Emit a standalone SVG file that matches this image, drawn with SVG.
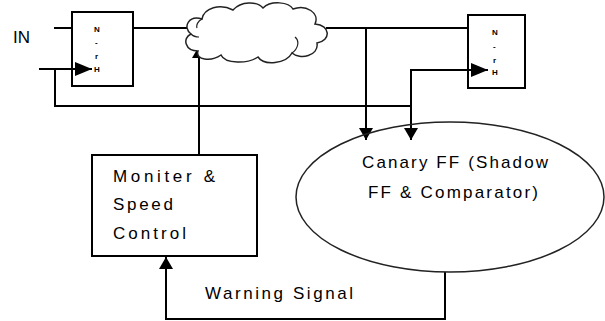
<svg xmlns="http://www.w3.org/2000/svg" width="605" height="321" viewBox="0 0 605 321">
<style>
.ln{fill:none;stroke:#000;stroke-width:2}
.box{fill:#fff;stroke:#000;stroke-width:2}
.t{font-family:"Liberation Sans",Arial,sans-serif;font-size:17px;fill:#000}
.s{font-family:"Liberation Sans",Arial,sans-serif;font-size:8px;font-weight:bold;fill:#000}
</style>
<defs>
<marker id="ah" markerUnits="userSpaceOnUse" markerWidth="14" markerHeight="14" refX="12" refY="7" orient="auto">
<path d="M0,0 L12,7 L0,14 z" fill="#000"/>
</marker>
<marker id="ck" markerUnits="userSpaceOnUse" markerWidth="18" markerHeight="14" refX="17" refY="7" orient="auto">
<path d="M0,0 L17,7 L0,14 z" fill="#000"/>
</marker>
</defs>
<g id="connectors">
<line class="ln" x1="54" y1="28" x2="72" y2="28"/>
<line class="ln" x1="133" y1="28" x2="190" y2="28"/>
<line class="ln" x1="326" y1="28" x2="468" y2="28"/>
<line class="ln" x1="39" y1="69" x2="92" y2="69" marker-end="url(#ck)"/>
<polyline class="ln" points="55,69 55,106 411,106"/>
<line class="ln" x1="411" y1="70" x2="411" y2="140" marker-end="url(#ah)"/>
<line class="ln" x1="410" y1="70" x2="488" y2="70" marker-end="url(#ck)"/>
<line class="ln" x1="366" y1="28" x2="366" y2="140" marker-end="url(#ah)"/>
<line class="ln" x1="199" y1="155" x2="199" y2="46" marker-end="url(#ah)"/>
<polyline class="ln" points="445,272 445,319 166,319 166,257" marker-end="url(#ah)"/>
</g>
<g id="in-label"><text class="t" x="13" y="43" font-size="18">IN</text></g>
<g id="ff-left">
<rect class="box" x="72" y="12" width="61" height="74" fill-opacity="0"/>
<text class="s" x="94" y="32">N</text>
<text class="s" x="95" y="45">-</text>
<text class="s" x="95" y="59">r</text>
<text class="s" x="94" y="72">H</text>
</g>
<g id="cloud">
<path d="M198,51 C185,51 182,38 191,34 C182,27 189,15 202,19 C204,8 220,3 233,10 C241,1 257,1 263,8 C271,0 289,2 293,9 C306,4 320,13 315,24 C331,25 331,41 317,43 C319,56 300,60 292,53 C286,64 264,66 258,57 C248,64 225,64 221,55 C211,62 195,60 198,51 Z" fill="#fff" stroke="#222" stroke-width="1.5"/>
<path d="M202,19 C198,21 196,25 197,28 M292,53 C298,49 300,41 295,37 M191,34 C193,36 196,37 199,37" fill="none" stroke="#222" stroke-width="1.2"/>
</g>
<g id="ff-right">
<rect class="box" x="468" y="15" width="57" height="73" fill-opacity="0"/>
<text class="s" x="492" y="35">N</text>
<text class="s" x="493" y="49">-</text>
<text class="s" x="493" y="63">r</text>
<text class="s" x="492" y="75">H</text>
</g>
<g id="monitor">
<rect class="box" x="92" y="155" width="165" height="101"/>
<text class="t" x="113" y="182" textLength="102" lengthAdjust="spacing">Moniter &amp;</text>
<text class="t" x="113" y="210" textLength="60" lengthAdjust="spacing">Speed</text>
<text class="t" x="113" y="239" textLength="73" lengthAdjust="spacing">Control</text>
</g>
<g id="canary">
<ellipse cx="450" cy="197" rx="154" ry="75" fill="none" stroke="#222" stroke-width="1.5"/>
<text class="t" x="362" y="168" textLength="186" lengthAdjust="spacing">Canary FF (Shadow</text>
<text class="t" x="368" y="198" textLength="170" lengthAdjust="spacing">FF &amp; Comparator)</text>
</g>
<g id="warning"><text class="t" x="205" y="299" textLength="148" lengthAdjust="spacing">Warning Signal</text></g>
</svg>
